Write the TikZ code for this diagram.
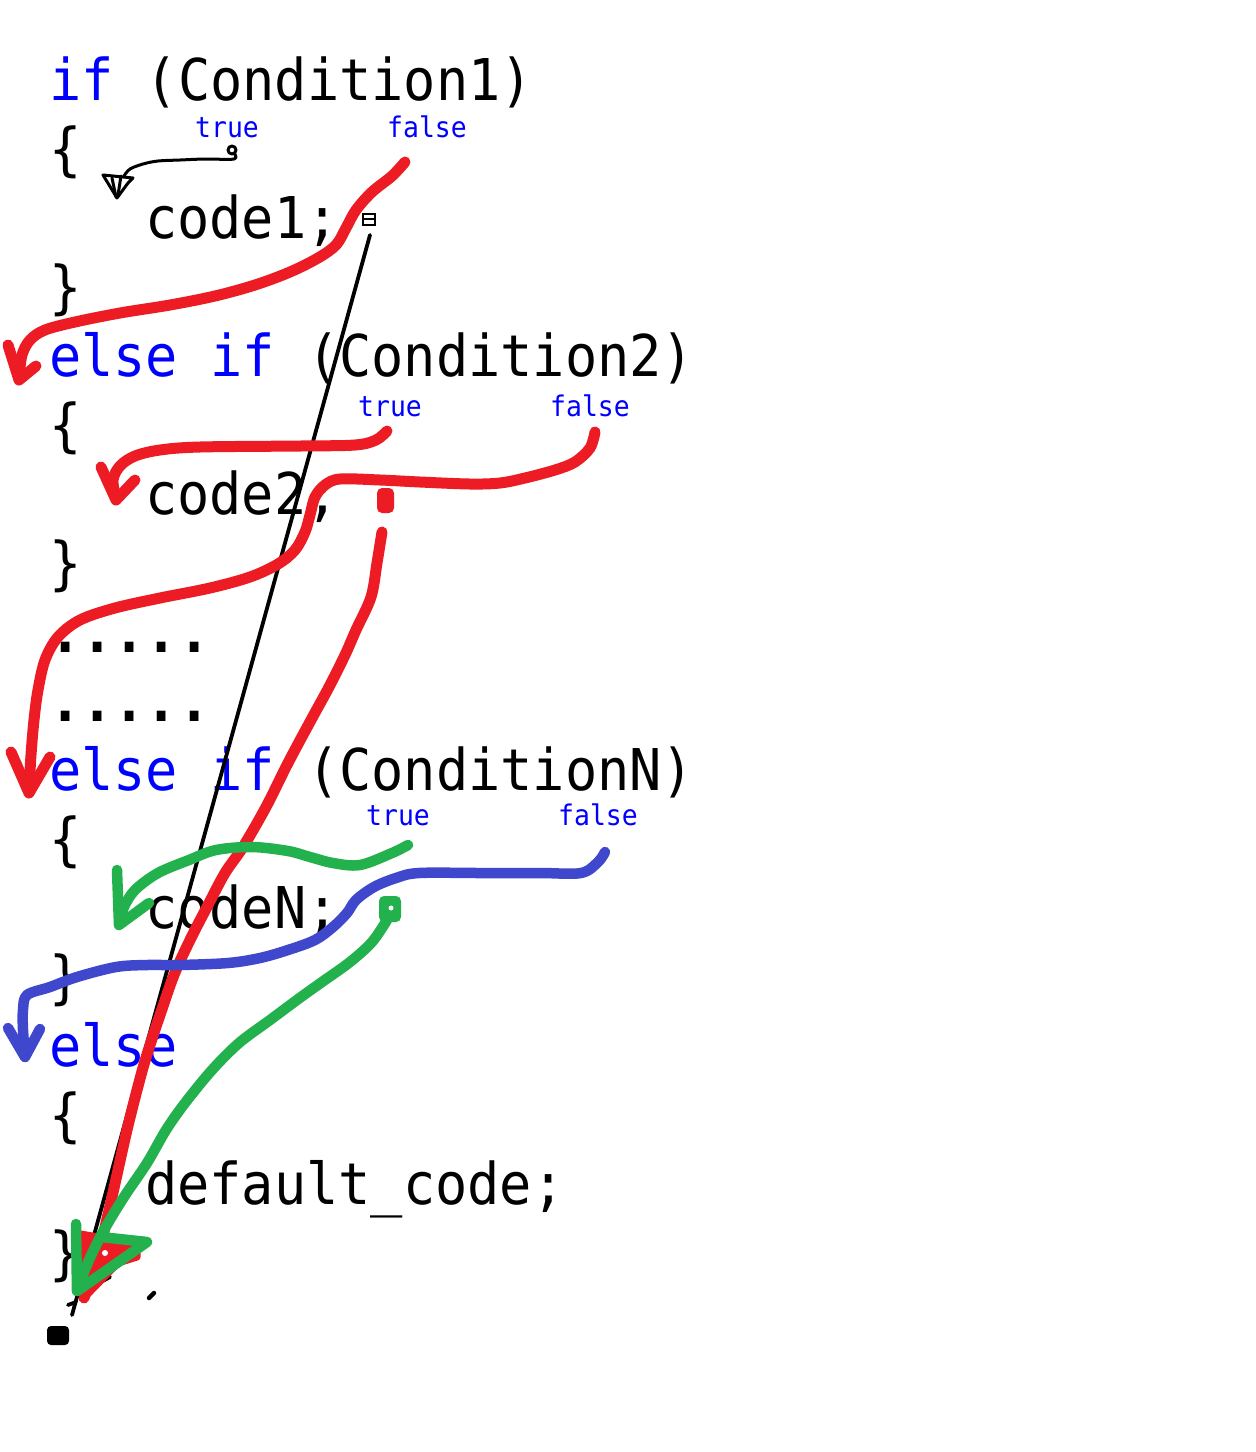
\documentclass[tikz,border=0pt]{standalone}
\usepackage{fontspec}
\newfontfamily\codefont[FakeStretch=0.93]{DejaVu Sans Mono}
\newcommand{\codesize}{\fontsize{57.6pt}{69pt}\selectfont}
\newcommand{\labsize}{\fontsize{28.4pt}{30pt}\selectfont}
\definecolor{pred}{RGB}{237,28,36}
\definecolor{pgreen}{RGB}{34,177,76}
\definecolor{pblue}{RGB}{63,72,204}
\definecolor{kw}{RGB}{0,0,255}
\tikzset{
  codeline/.style={anchor=base west, inner sep=0pt, font=\codefont\codesize, text=black},
  lab/.style={anchor=base west, inner sep=0pt, font=\codefont\labsize, text=kw},
  redpen/.style={draw=pred, line width=11pt, line cap=round, line join=round},
  greenpen/.style={draw=pgreen, line width=10.5pt, line cap=round, line join=round},
  bluepen/.style={draw=pblue, line width=10.5pt, line cap=round, line join=round},
  blackpen/.style={draw=black, line width=3.8pt, line cap=round, line join=round},
  curve/.style={smooth, tension=0.55},
}
\begin{document}
\begin{tikzpicture}[x=1pt,y=-1pt]
\useasboundingbox[fill=white] (0,0) rectangle (1256,1452);
% code text
\node[codeline] (l1)  at (49,100)  {\textcolor{kw}{if} (Condition1)};
\node[codeline] (l2)  at (49,169)  {\{};
\node[codeline] (l3)  at (145,238) {code1;};
\node[codeline] (l4)  at (49,307)  {\}};
\node[codeline] (l5)  at (49,376)  {\textcolor{kw}{else if} (Condition2)};
\node[codeline] (l6)  at (49,445)  {\{};
\node[codeline] (l7)  at (145,514) {code2;};
\node[codeline] (l8)  at (49,583)  {\}};
\node[codeline] (l9)  at (49,652)  {\textbf{.....}};
\node[codeline] (l10) at (49,721)  {\textbf{.....}};
\node[codeline] (l11) at (49,790)  {\textcolor{kw}{else if} (ConditionN)};
\node[codeline] (l12) at (49,859)  {\{};
\node[codeline] (l13) at (145,928) {codeN;};
\node[codeline] (l14) at (49,997)  {\}};
\node[codeline] (l15) at (49,1066) {\textcolor{kw}{else}};
\node[codeline] (l16) at (49,1135) {\{};
\node[codeline] (l17) at (145,1204) {default\_code;};
\node[codeline] (l18) at (49,1273) {\}};
% labels
\node[lab] (t1) at (195,137) {true};
\node[lab] (f1) at (387,137) {false};
\node[lab] (t2) at (358,416) {true};
\node[lab] (f2) at (550,416) {false};
\node[lab] (tN) at (366,825) {true};
\node[lab] (fN) at (558,825) {false};

% black long line and marks
\draw[blackpen] (370,235) -- (72,1315);
\draw[line width=2.8pt] (363,214) rectangle (375,225);
\draw[line width=2.2pt] (363,219) -- (375,219);
\draw[blackpen] (90,1288) -- (110,1277);
\draw[blackpen] (68,1305) -- (76,1302);
\draw[blackpen, line width=4.5pt] (149,1298) -- (154,1293);
\fill[rounded corners=4pt] (47,1326) rectangle (69,1345);

% black thin arrow (condition1 true)
\draw[blackpen, line width=3pt] (232,150) circle (4pt);
\draw[blackpen, line width=3pt] plot[curve] coordinates {(234,153) (234,159) (205,159) (180,160) (158,161) (143,164) (130,169) (124,176)};
\draw[blackpen, line width=3pt] (103,175) -- (117,198) -- (128,183) -- (133,178) -- cycle;
\draw[blackpen, line width=3pt] (112,178) -- (116,197);
\draw[blackpen, line width=3pt] (121,176) -- (118,195);

% red: condition1 false
\draw[redpen] plot[curve] coordinates {(405,162) (392,176) (372,192) (356,210) (346,228) (336,245) (318,258) (290,272) (255,285) (215,296) (170,305) (120,313) (75,322) (45,330) (30,340) (22,355) (19,378)};
\draw[redpen] (8,345) -- (19,380) -- (36,366);

% red: condition2 true
\draw[redpen] plot[curve] coordinates {(387,431) (376,440) (355,445) (300,446) (200,447) (160,450) (135,456) (120,466) (113,480) (116,498)};
\draw[redpen] (101,467) -- (116,500) -- (135,480);

% red: condition2 false
\draw[redpen] plot[curve] coordinates {(595,432) (590,448) (575,462) (555,470) (525,478) (500,483) (470,484) (420,482) (380,480) (340,479) (325,485) (315,497) (310,515) (305,532) (295,550) (278,564) (250,577) (210,588) (160,598) (115,608) (80,620) (58,637) (45,660) (38,690) (34,720) (31,755) (29,790)};
\draw[redpen] (11,752) -- (29,793) -- (50,757);

% red blob and long red stroke
\fill[pred, rounded corners=5pt] (377,488) rectangle (394,513);
\draw[redpen] plot[curve] coordinates {(382,532) (377,563) (371,597) (356,630) (345,655) (329,687) (311,720) (288,763) (266,807) (243,847) (225,873) (207,907) (190,940) (174,975) (160,1015) (150,1045) (141,1075) (127,1130) (112,1197) (100,1247) (84,1298)};
\draw[redpen, line width=7pt, fill=pred] (81,1234) -- (137,1244) -- (137,1257) -- (118,1263) -- (84,1298) -- cycle;
\fill[white] (105,1253) circle (3pt);

% green: conditionN true
\draw[greenpen] plot[curve] coordinates {(408,845) (392,853) (360,865) (333,863) (310,857) (288,851) (252,847) (216,850) (189,860) (158,873) (135,890) (124,907) (120,922)};
\draw[greenpen] (117,870) -- (119,925) -- (149,903);

% green blob and long green stroke
\fill[pgreen, rounded corners=5pt] (379,896) rectangle (401,922);
\fill[white] (391,908) circle (2.5pt);
\draw[greenpen] plot[curve] coordinates {(387,920) (372,942) (350,962) (322,982) (301,997) (270,1020) (239,1043) (212,1070) (185,1103) (166,1130) (147,1163) (124,1197) (104,1230) (89,1260) (77,1290)};
\draw[greenpen] (76,1224) -- (77,1291) -- (147,1242) -- (101,1237);

% blue: conditionN false
\draw[bluepen] plot[curve] coordinates {(605,852) (598,862) (581,873) (540,873) (480,873) (419,873) (396,878) (374,887) (356,900) (347,913) (333,927) (315,940) (288,950) (260,958) (228,963) (180,965) (147,965) (116,967) (77,977) (50,987) (27,995) (23,1010) (23,1030) (25,1055)};
\draw[bluepen] (8,1028) -- (25,1057) -- (40,1029);
\end{tikzpicture}
\end{document}
